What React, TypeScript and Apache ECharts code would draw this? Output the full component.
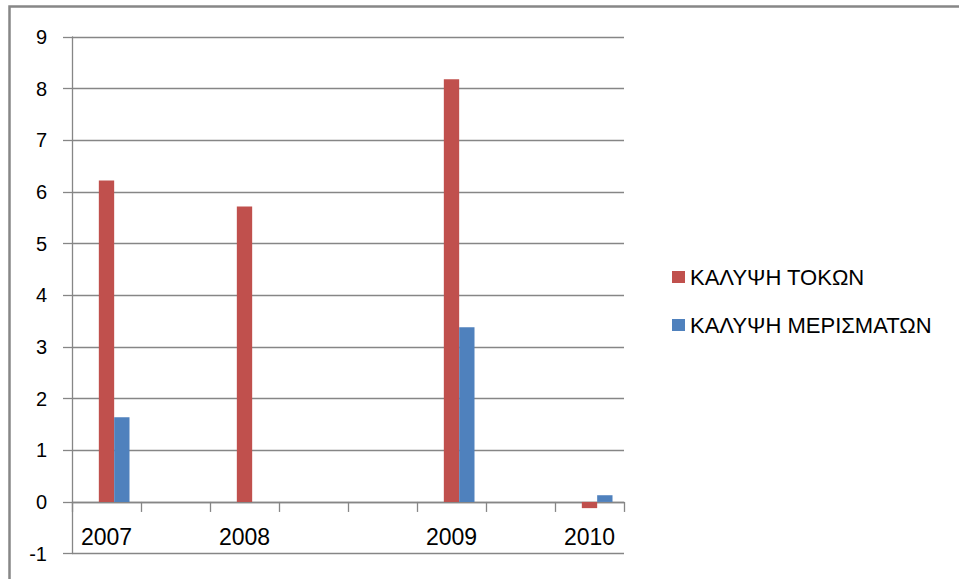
import React, { useEffect, useRef } from "react";
import * as echarts from "echarts";

const categories = ["2007", " ", "2008", "  ", "   ", "2009", "    ", "2010"];
const spacerValues = [null, null, null, null, null, null, null, null];
const interestCover = [6.22, null, 5.72, null, null, 8.18, null, -0.12];
const dividendCover = [1.64, null, null, null, null, 3.38, null, 0.13];
const seriesNames = ["ΚΑΛΥΨΗ ΤΟΚΩΝ", "ΚΑΛΥΨΗ ΜΕΡΙΣΜΑΤΩΝ"];
const yMin = -1;
const yMax = 9;

const FONT = "'Liberation Sans', Arial, sans-serif";
const GRID = "#868686";

export default function App() {
  const ref = useRef<HTMLDivElement>(null);
  useEffect(() => {
    if (!ref.current) return;
    const chart = echarts.init(ref.current, undefined, { renderer: "svg" });
    chart.setOption({
      animation: false,
      backgroundColor: "#ffffff",
      textStyle: { fontFamily: FONT },
      graphic: [
        {
          type: "rect",
          shape: { x: 9.5, y: 6.5, width: 1200, height: 1200 },
          style: { fill: "none", stroke: "#878787", lineWidth: 2.5 },
          silent: true,
        },
      ],
      grid: {
        left: 72,
        right: 335,
        top: 37,
        bottom: 25.4,
        containLabel: false,
        outerBoundsMode: "none",
      },
      legend: {
        data: seriesNames,
        orient: "vertical",
        left: 667,
        top: 261,
        itemWidth: 13,
        itemHeight: 12,
        itemGap: 26,
        icon: "rect",
        textStyle: { fontSize: 22, color: "#000", fontFamily: FONT },
      },
      xAxis: {
        type: "category",
        data: categories,
        axisLine: { onZero: true, lineStyle: { color: GRID, width: 1.3 } },
        axisTick: { show: true, interval: 0, length: 10, lineStyle: { color: GRID, width: 1.3 } },
        axisLabel: { interval: 0, fontSize: 23, color: "#000", margin: -28, fontFamily: FONT },
        splitLine: { show: false },
      },
      yAxis: {
        type: "value",
        min: yMin,
        max: yMax,
        interval: 1,
        axisLine: { show: true, lineStyle: { color: GRID, width: 1.3 } },
        axisTick: { show: true, length: 9, lineStyle: { color: GRID, width: 1.3 } },
        axisLabel: { fontSize: 20, color: "#000", margin: 25, fontFamily: FONT },
        splitLine: { show: true, lineStyle: { color: GRID, width: 1.3 } },
      },
      series: [
        {
          name: "_spacer",
          type: "bar",
          data: spacerValues,
          barGap: "0%",
          barCategoryGap: "33.3%",
          itemStyle: { color: "transparent" },
        },
        {
          name: seriesNames[0],
          type: "bar",
          data: interestCover,
          barGap: "0%",
          barCategoryGap: "33.3%",
          itemStyle: { color: "#C0504D" },
        },
        {
          name: seriesNames[1],
          type: "bar",
          data: dividendCover,
          barGap: "0%",
          barCategoryGap: "33.3%",
          itemStyle: { color: "#4F81BD" },
        },
      ],
    });
    return () => chart.dispose();
  }, []);
  return (
    <div
      ref={ref}
      style={{ position: "fixed", left: 0, top: 0, width: 959, height: 579, background: "#fff" }}
    />
  );
}
